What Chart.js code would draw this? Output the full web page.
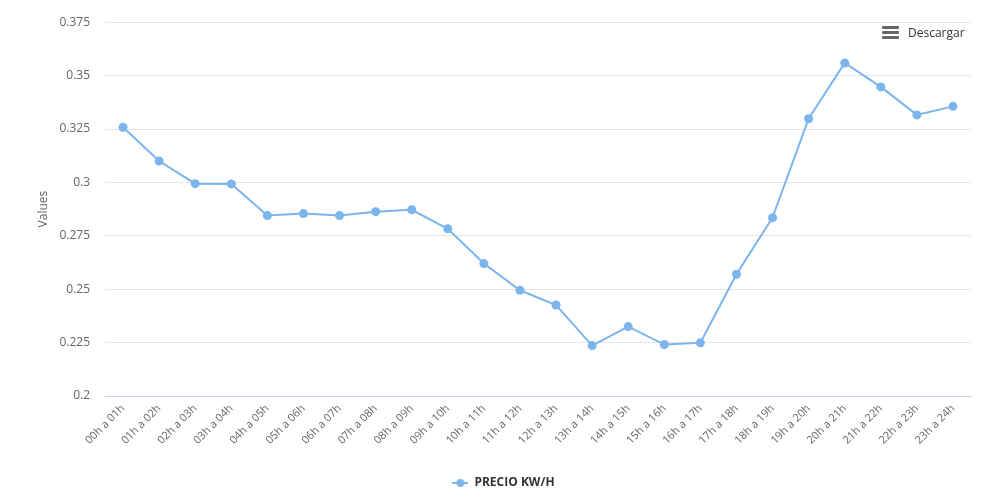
<!DOCTYPE html>
<html>
<head>
<meta charset="utf-8">
<script src="https://cdn.jsdelivr.net/npm/chart.js@4/dist/chart.umd.min.js"></script>
<style>
  html, body { margin: 0; padding: 0; background: #fff; }
  #wrap { position: relative; width: 988px; height: 503px; }
  #descargar {
    position: absolute; left: 882px; top: 24px;
    font: 12px "Open Sans", sans-serif; color: #333;
    display: flex; align-items: center;
  }
  #descargar .icon { width: 17px; margin-right: 9px; }
  #descargar .icon div { height: 3px; background: #666; margin: 2px 0; border-radius: 1px; }
</style>
</head>
<body>
<div id="wrap">
  <canvas id="chart" width="988" height="503"></canvas>
  <div id="descargar"><div class="icon"><div></div><div></div><div></div></div>Descargar</div>
</div>
<script>
// hour ranges on the x axis
const hours = ['00h a 01h', '01h a 02h', '02h a 03h', '03h a 04h', '04h a 05h', '05h a 06h',
  '06h a 07h', '07h a 08h', '08h a 09h', '09h a 10h', '10h a 11h', '11h a 12h',
  '12h a 13h', '13h a 14h', '14h a 15h', '15h a 16h', '16h a 17h', '17h a 18h',
  '18h a 19h', '19h a 20h', '20h a 21h', '21h a 22h', '22h a 23h', '23h a 24h']

// price per kWh
const precio = [0.3258, 0.3100, 0.2994, 0.2993, 0.2845, 0.2854, 0.2845, 0.2863, 0.2872, 0.2783, 0.2620, 0.2495,
  0.2426, 0.2236, 0.2325, 0.2241, 0.2249, 0.2570, 0.2835, 0.3298, 0.3559, 0.3447, 0.3316, 0.3356]

const seriesName = 'PRECIO KW/H'
const yTicks = [0.2, 0.225, 0.25, 0.275, 0.3, 0.325, 0.35, 0.375]

const lineColor = '#7cb5ec'

// legend symbol: short line with a dot, like the original
function legendSymbol() {
  const c = document.createElement('canvas')
  c.width = 16
  c.height = 10
  const g = c.getContext('2d')
  g.strokeStyle = lineColor
  g.lineWidth = 2
  g.beginPath()
  g.moveTo(0, 5)
  g.lineTo(16, 5)
  g.stroke()
  g.fillStyle = lineColor
  g.beginPath()
  g.arc(8, 5, 4, 0, Math.PI * 2)
  g.fill()
  return c
}

Chart.defaults.font.family = '"Open Sans", sans-serif'
Chart.defaults.color = '#666'

const ctx = document.getElementById('chart').getContext('2d')
new Chart(ctx, {
  type: 'line',
  data: {
    labels: hours,
    datasets: [{
      label: seriesName,
      data: precio,
      borderColor: lineColor,
      backgroundColor: lineColor,
      borderWidth: 2,
      pointRadius: 4.5,
      pointHoverRadius: 5,
      pointBorderWidth: 0,
      tension: 0
    }]
  },
  options: {
    responsive: false,
    animation: false,
    layout: { padding: { top: 18, right: 17, left: 36, bottom: 4 } },
    scales: {
      x: {
        offset: true,
        grid: { display: false, drawTicks: false },
        border: { color: '#ccd6eb' },
        ticks: {
          minRotation: 45,
          maxRotation: 45,
          padding: 6,
          color: '#666',
          font: { size: 11 }
        },
        afterFit: function(scale) { scale.height = 73 }
      },
      y: {
        min: 0.2,
        max: 0.375,
        afterBuildTicks: function(scale) {
          scale.ticks = yTicks.map(v => ({ value: v }))
        },
        grid: { color: '#e6e6e6', drawTicks: false },
        border: { display: false },
        ticks: {
          padding: 15,
          color: '#666',
          font: { size: 12 },
          callback: function(v) { return String(+v.toFixed(3)) }
        },
        title: {
          display: true,
          text: 'Values',
          color: '#666',
          font: { size: 12 },
          padding: { top: 0, bottom: 14 }
        },
        afterFit: function(scale) { scale.width = 69 }
      }
    },
    plugins: {
      legend: {
        position: 'bottom',
        labels: {
          usePointStyle: true,
          pointStyle: legendSymbol(),
          pointStyleWidth: 16,
          color: '#333',
          font: { size: 12, weight: 'bold' },
          padding: 8
        }
      },
      tooltip: { enabled: false }
    }
  }
})
</script>
</body>
</html>
